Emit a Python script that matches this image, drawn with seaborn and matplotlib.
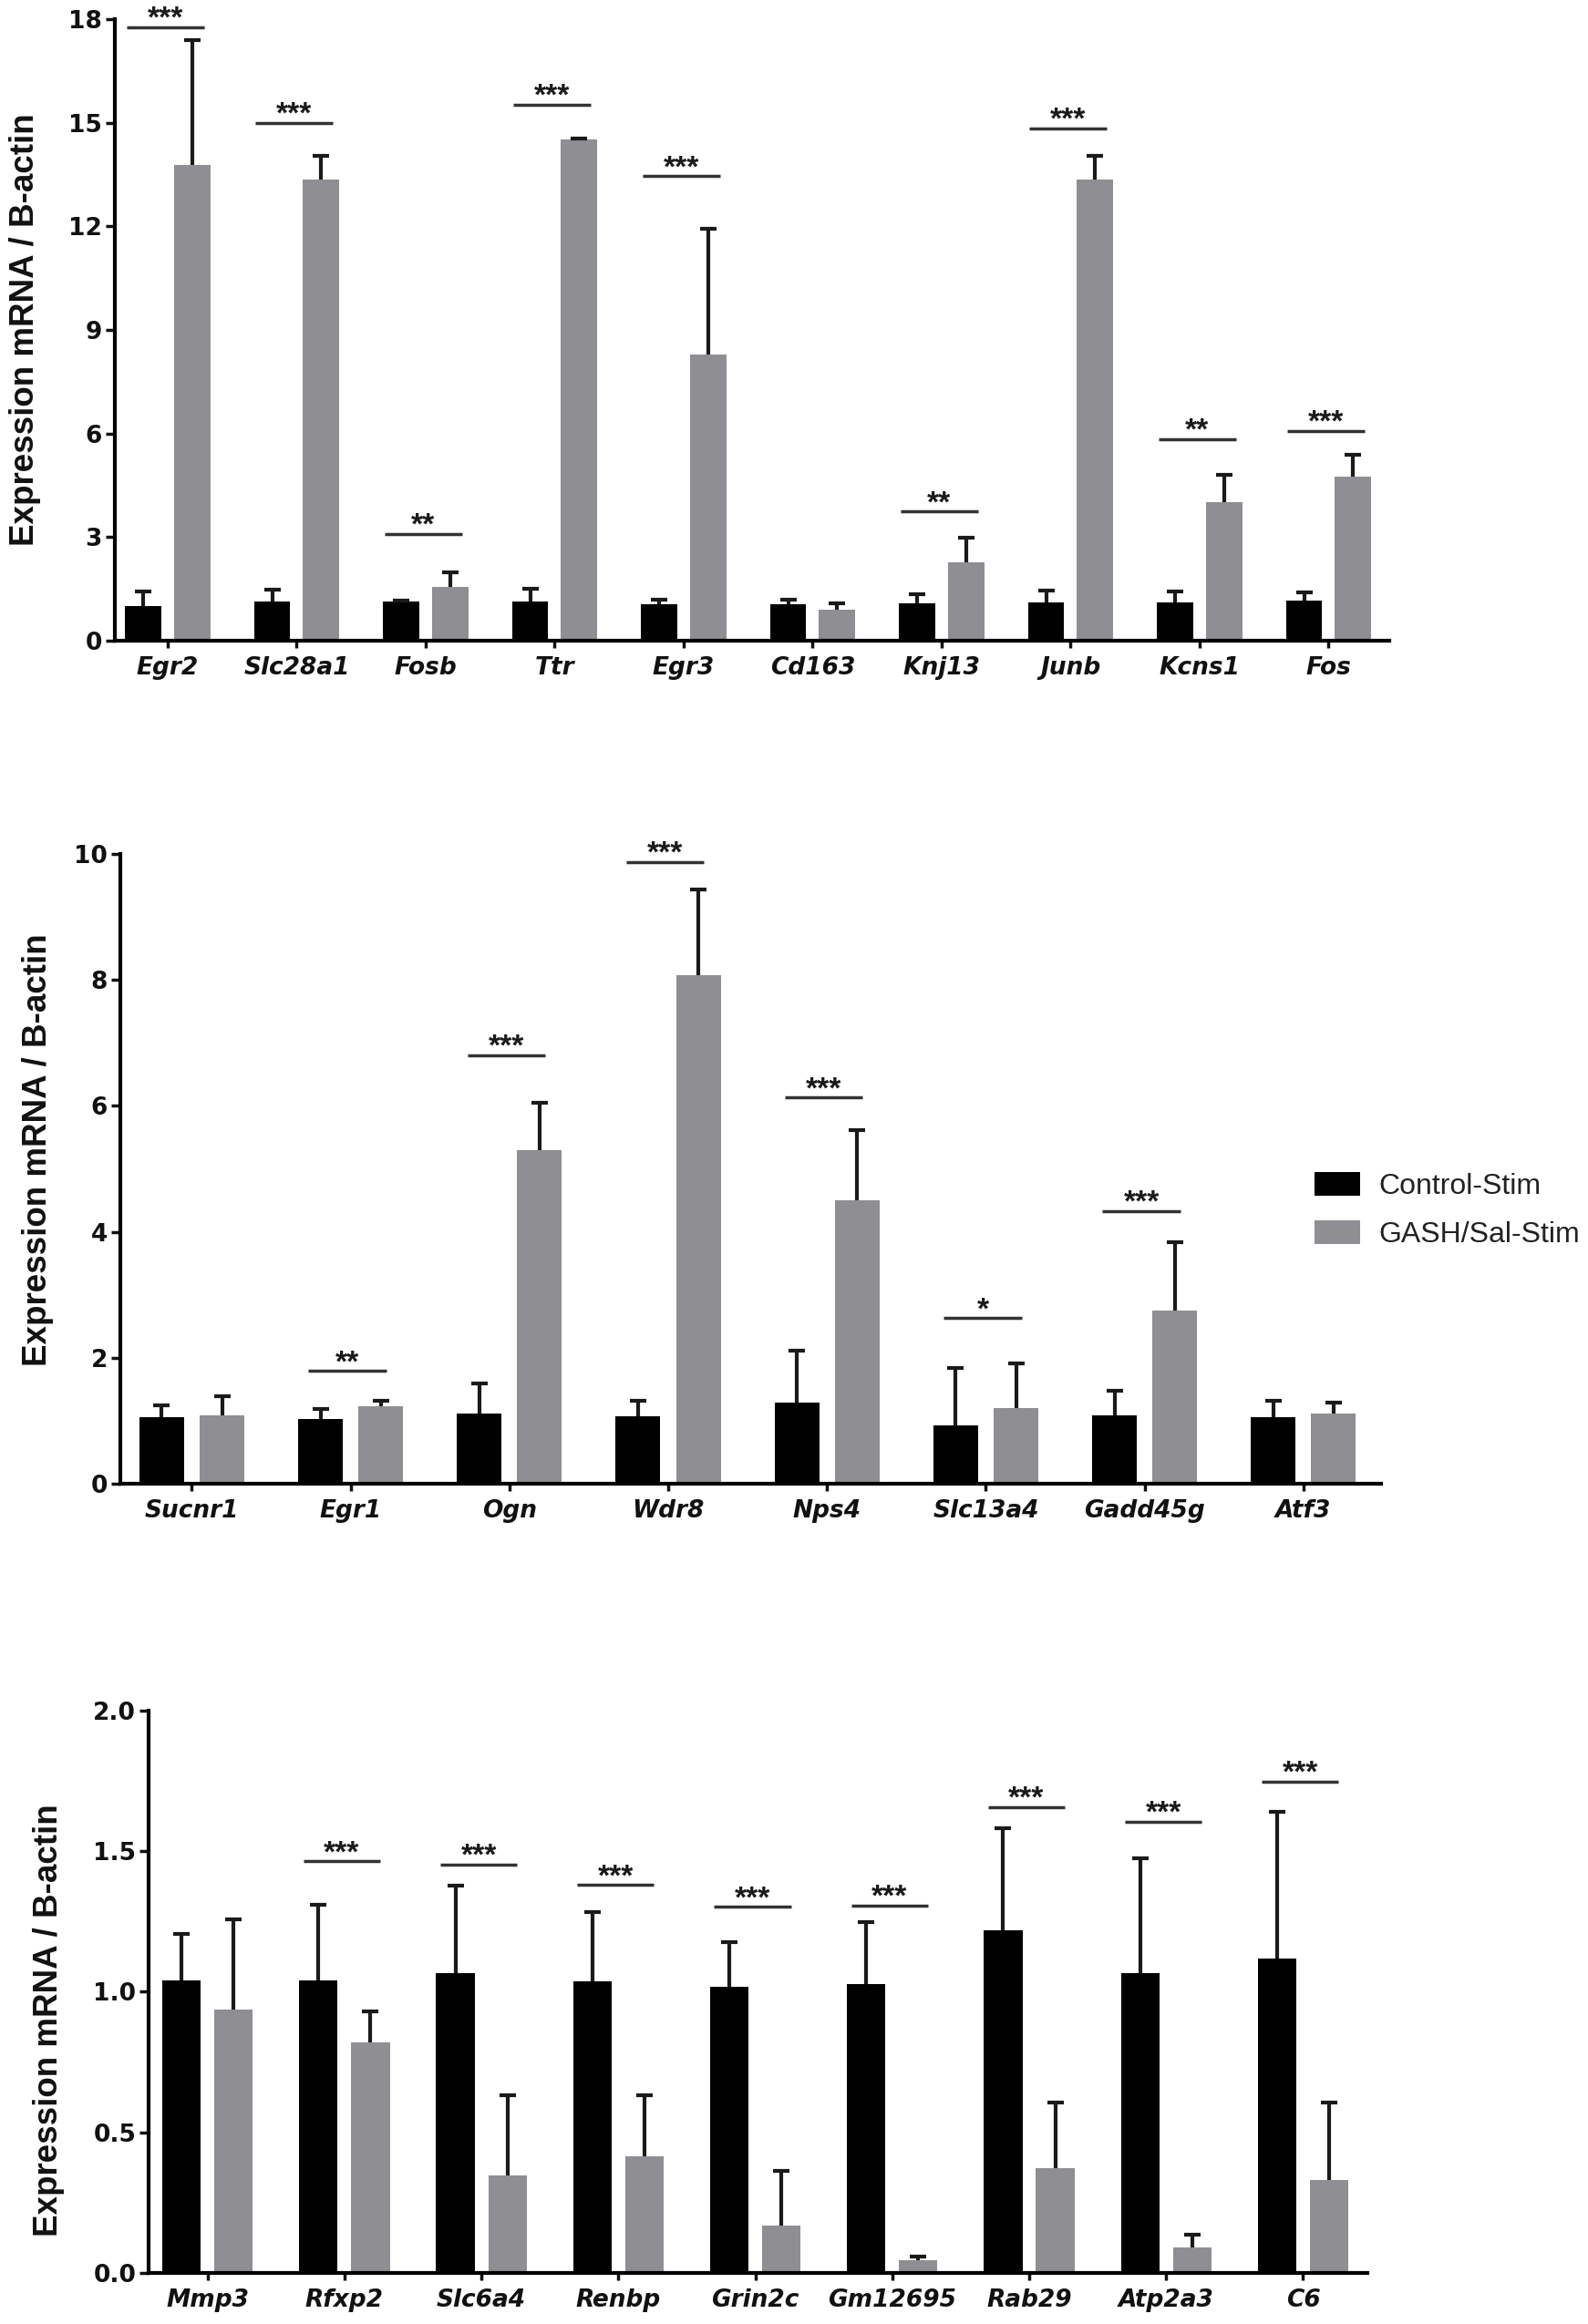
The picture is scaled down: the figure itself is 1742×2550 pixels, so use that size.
import numpy as np
import pandas as pd
import matplotlib
matplotlib.use("Agg")
import matplotlib.pyplot as plt
import seaborn as sns
from matplotlib.ticker import FormatStrFormatter

# ---------------- data ----------------
groups = ["Control-Stim", "GASH/Sal-Stim"]

genes1 = ["Egr2", "Slc28a1", "Fosb", "Ttr", "Egr3", "Cd163", "Knj13", "Junb", "Kcns1", "Fos"]
ctrl1 = [1.00, 1.13, 1.13, 1.13, 1.06, 1.06, 1.09, 1.12, 1.12, 1.15]
ctrl1_err = [0.42, 0.34, 0.02, 0.37, 0.14, 0.13, 0.25, 0.34, 0.31, 0.25]
gash1 = [13.78, 13.35, 1.55, 14.51, 8.28, 0.89, 2.26, 13.35, 4.00, 4.76]
gash1_err = [3.62, 0.69, 0.42, 0.04, 3.64, 0.19, 0.72, 0.69, 0.80, 0.63]
sig1 = ["***", "***", "**", "***", "***", "", "**", "***", "**", "***"]
sig1_y = [17.77, 15.0, 3.1, 15.52, 13.45, np.nan, 3.74, 14.83, 5.84, 6.08]

genes2 = ["Sucnr1", "Egr1", "Ogn", "Wdr8", "Nps4", "Slc13a4", "Gadd45g", "Atf3"]
ctrl2 = [1.05, 1.03, 1.11, 1.07, 1.29, 0.92, 1.08, 1.06]
ctrl2_err = [0.20, 0.16, 0.48, 0.25, 0.82, 0.92, 0.39, 0.26]
gash2 = [1.08, 1.23, 5.29, 8.08, 4.50, 1.20, 2.75, 1.12]
gash2_err = [0.31, 0.08, 0.76, 1.36, 1.12, 0.71, 1.08, 0.16]
sig2 = ["", "**", "***", "***", "***", "*", "***", ""]
sig2_y = [np.nan, 1.79, 6.8, 9.87, 6.13, 2.63, 4.33, np.nan]

genes3 = ["Mmp3", "Rfxp2", "Slc6a4", "Renbp", "Grin2c", "Gm12695", "Rab29", "Atp2a3", "C6"]
ctrl3 = [1.04, 1.04, 1.066, 1.037, 1.017, 1.026, 1.219, 1.066, 1.117]
ctrl3_err = [0.165, 0.27, 0.31, 0.246, 0.158, 0.22, 0.362, 0.408, 0.524]
gash3 = [0.935, 0.82, 0.347, 0.414, 0.169, 0.045, 0.371, 0.092, 0.331]
gash3_err = [0.322, 0.11, 0.286, 0.219, 0.193, 0.012, 0.235, 0.045, 0.275]
sig3 = ["", "***", "***", "***", "***", "***", "***", "***", "***"]
sig3_y = [np.nan, 1.463, 1.452, 1.38, 1.302, 1.307, 1.657, 1.605, 1.748]

ylabel = "Expression mRNA / B-actin"

# ---------------- style ----------------
BLACK = "#000000"
GRAY = "#8e8e93"
sns.set_style("ticks")
plt.rcParams["font.family"] = ["Liberation Sans", "DejaVu Sans"]

fig = plt.figure(figsize=(17.42, 25.5), dpi=100)


def draw(rect, genes, ctrl, ctrl_err, gash, gash_err, sig, sig_y, xlim, ylim,
         yticks, fmt, half, ylab_xy, legend):
    ax = fig.add_axes(rect)
    n = len(genes)
    df = pd.DataFrame({
        "gene": list(genes) * 2,
        "group": [groups[0]] * n + [groups[1]] * n,
        "value": list(ctrl) + list(gash),
    })
    sns.barplot(data=df, x="gene", y="value", hue="group", order=genes,
                hue_order=groups, palette=[BLACK, GRAY], saturation=1,
                width=0.76, gap=0.26, errorbar=None, linewidth=0,
                legend=legend, ax=ax)
    conts = list(ax.containers)[:2]
    for cont, err in zip(conts, [ctrl_err, gash_err]):
        xs = np.array([p.get_x() + p.get_width() / 2 for p in cont])
        hs = np.array([p.get_height() for p in cont])
        eb = ax.errorbar(xs, hs, yerr=[np.zeros(n), np.array(err)], fmt="none",
                         ecolor="#1a1a1a", elinewidth=3.0, capsize=6.5,
                         capthick=3.0, zorder=3)
        for cl in eb[1]:
            if np.allclose(cl.get_ydata(), hs):
                cl.set_visible(False)
    for i, (s, y) in enumerate(zip(sig, sig_y)):
        if s:
            c = i - 0.02
            ax.plot([c - half, c + half], [y, y], color="#333333", lw=2.5,
                    solid_capstyle="butt", clip_on=False, zorder=4)
            ax.annotate(s, (c, y), xytext=(0, 0), textcoords="offset points",
                        ha="center", va="baseline", fontsize=24,
                        fontweight="bold", color="#1a1a1a",
                        annotation_clip=False)
    ax.set_xlim(*xlim)
    ax.set_ylim(*ylim)
    ax.set_yticks(yticks)
    ax.yaxis.set_major_formatter(FormatStrFormatter(fmt))
    sns.despine(ax=ax)
    for sp in ["left", "bottom"]:
        ax.spines[sp].set_linewidth(3.0)
        ax.spines[sp].set_color("#000000")
    ax.tick_params(axis="y", length=7, width=2.5, pad=3, labelsize=19,
                   colors="#111111")
    ax.tick_params(axis="x", length=6, width=2.5, pad=6, labelsize=19,
                   colors="#111111")
    for lab in ax.get_yticklabels():
        lab.set_fontfamily("DejaVu Sans")
        lab.set_fontweight("bold")
    for lab in ax.get_xticklabels():
        lab.set_fontfamily("DejaVu Sans")
        lab.set_fontweight("bold")
        lab.set_fontstyle("oblique")
    ax.set_xlabel("")
    ax.set_ylabel(ylabel, fontsize=26.5, fontweight="bold", color="#111111")
    ax.yaxis.set_label_coords(*ylab_xy)
    return ax


ax1 = draw([0.0723, 0.7243, 0.8025, 0.2675], genes1, ctrl1, ctrl1_err, gash1,
           gash1_err, sig1, sig1_y, (-0.41, 9.47), (0, 18), np.arange(0, 19, 3),
           "%d", 0.30, (-0.058, 0.5), False)
ax2 = draw([0.0758, 0.3616, 0.794, 0.271], genes2, ctrl2, ctrl2_err, gash2,
           gash2_err, sig2, sig2_y, (-0.45, 7.49), (0, 10), np.arange(0, 11, 2),
           "%d", 0.245, (-0.053, 0.53), True)
ax3 = draw([0.0936, 0.022, 0.7675, 0.242], genes3, ctrl3, ctrl3_err, gash3,
           gash3_err, sig3, sig3_y, (-0.43, 8.47), (0, 2.0),
           np.arange(0, 2.01, 0.5), "%.1f", 0.28, (-0.069, 0.45), False)

sns.move_legend(ax2, "upper left", bbox_to_anchor=(0.947, 0.495), frameon=False,
                title=None, fontsize=23, handlelength=1.56, handleheight=0.875,
                handletextpad=0.66, labelspacing=0.69, borderpad=0,
                borderaxespad=0)
for t in ax2.get_legend().get_texts():
    t.set_color("#222222")

fig.savefig("out.png", dpi=100)
